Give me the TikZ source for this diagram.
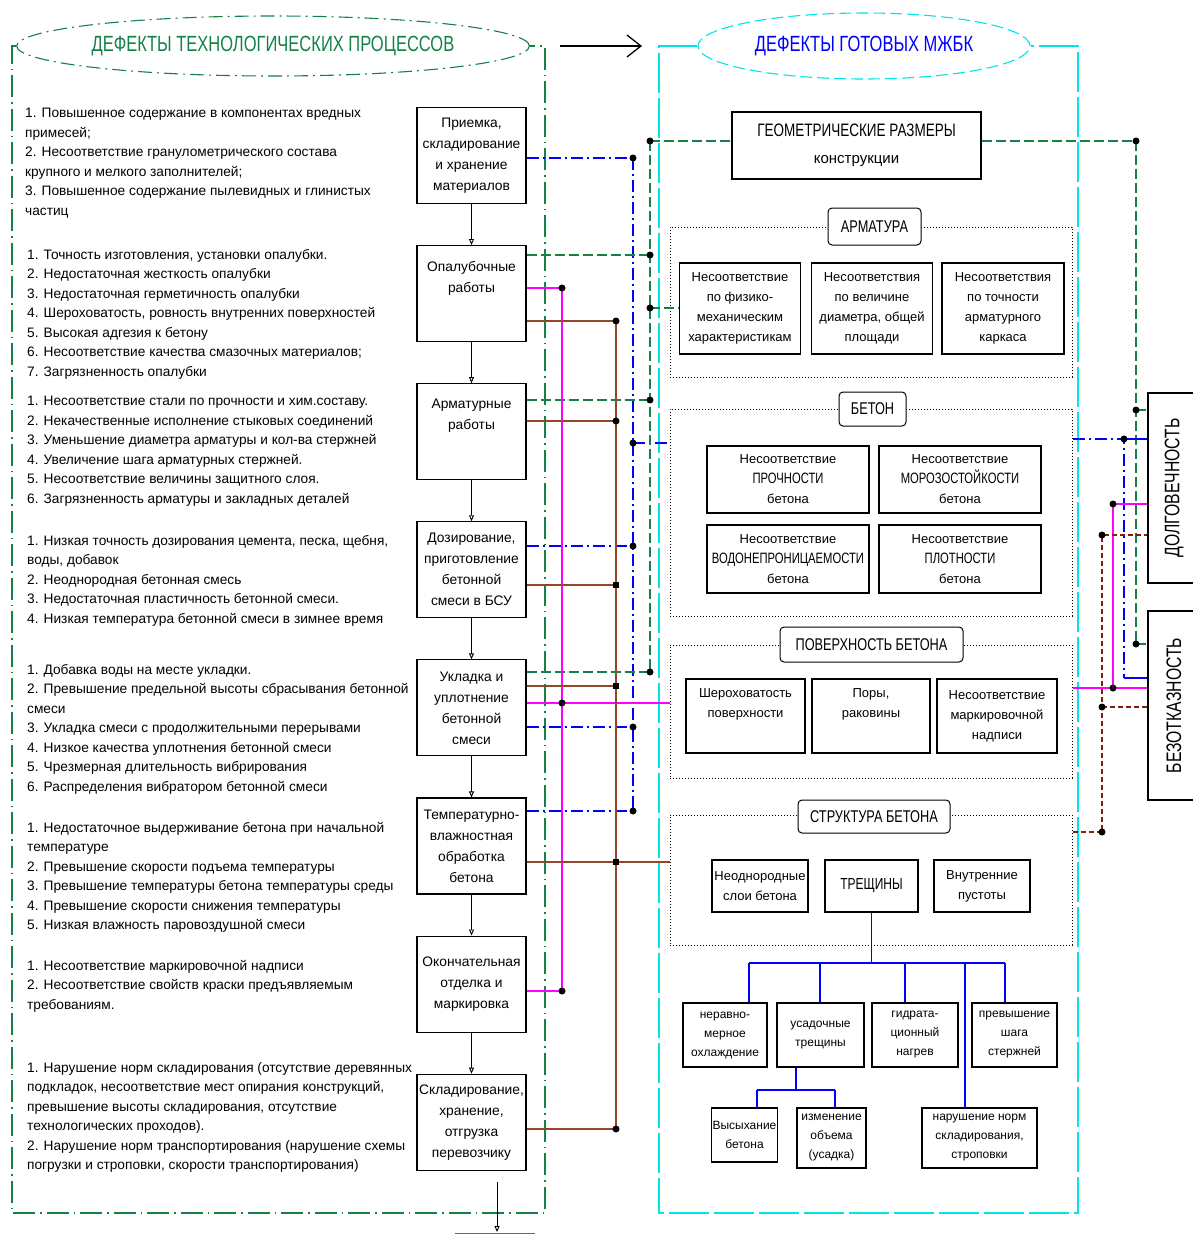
\documentclass[tikz,border=0pt]{standalone}
\usepackage{fontspec}
\setmainfont{Liberation Sans}
\newfontfamily\capsf{Liberation Sans}[FakeStretch=0.75]
\usetikzlibrary{arrows.meta, shapes.geometric, positioning}

\definecolor{cadgreen}{RGB}{20,130,70}
\definecolor{cadblue}{RGB}{0,0,255}
\definecolor{cadcyan}{RGB}{0,230,230}
\definecolor{cadpink}{RGB}{255,0,255}
\definecolor{cadbrown}{RGB}{150,70,40}
\definecolor{caddark}{RGB}{130,30,10}

\begin{document}
\begin{tikzpicture}[x=1pt, y=-1pt,
  stage/.style={draw, line width=1.1pt, minimum width=109pt, minimum height=96pt, inner sep=1pt, align=center, font=\fontsize{13.8}{21}\selectfont},
  stagetxt/.style={inner sep=0pt, align=center, font=\fontsize{13.8}{21}\selectfont},
  note/.style={anchor=north west, inner sep=0pt, align=left, font=\fontsize{13.7}{19.5}\selectfont},
  dbox/.style={draw, line width=1.1pt, inner sep=1pt, align=center, font=\fontsize{13}{20}\selectfont},
  grp/.style={draw, dotted, line width=1pt, inner sep=0pt, minimum width=402pt},
  grptag/.style={draw, fill=white, rounded corners=4pt, line width=1pt, inner sep=0pt, font=\capsf\fontsize{17}{17}\selectfont},
  outc/.style={draw, line width=1.1pt, minimum width=52pt, inner sep=0pt, font=\capsf\fontsize{21}{21}\selectfont},
  flow/.style={draw, line width=0.9pt, -{Triangle[open, length=6pt, width=5pt]}},
  lnG/.style={cadgreen, line width=1.6pt, dash pattern=on 10pt off 4pt},
  lnB/.style={cadblue, line width=1.6pt, dash pattern=on 12pt off 4pt on 2pt off 4pt},
  lnBs/.style={cadblue, line width=1.6pt},
  lnM/.style={cadpink, line width=1.6pt},
  lnR/.style={cadbrown, line width=1.7pt},
  lnRd/.style={caddark, line width=1.6pt, dash pattern=on 5pt off 3pt},
  tree/.style={cadblue, line width=1.3pt},
  jdot/.style={circle, fill, inner sep=0pt, minimum size=7pt},
  jsq/.style={rectangle, fill, inner sep=0pt, minimum size=6pt}
]
\useasboundingbox (0,0) rectangle (1192,1236);

% titles and frames
\node[ellipse, draw=cadgreen, line width=1.1pt, dash pattern=on 14pt off 5pt on 2pt off 5pt, minimum width=447pt, minimum height=60pt, inner sep=0pt, text=cadgreen, font=\capsf\fontsize{22}{22}\selectfont] (t1) at (273,46) {ДЕФЕКТЫ ТЕХНОЛОГИЧЕСКИХ ПРОЦЕССОВ};
\node[ellipse, draw=cadcyan, line width=1.1pt, dash pattern=on 12pt off 5pt, minimum width=332pt, minimum height=66pt, inner sep=0pt, text=cadblue, font=\capsf\fontsize{22}{22}\selectfont] (t2) at (864,46) {ДЕФЕКТЫ ГОТОВЫХ МЖБК};
\draw[cadgreen, line width=1.3pt, dash pattern=on 22pt off 5pt on 1.5pt off 5pt] (t1.west) -- (12,46) -- (12,1213) -- (545,1213) -- (545,46) -- (t1.east);
\draw[cadcyan, line width=1.3pt, dash pattern=on 40pt off 5pt] (t2.west) -- (659,46) -- (659,1213) -- (1078,1213) -- (1078,46) -- (t2.east);
\coordinate (arA) at (560,46);
\coordinate (arB) at (642,46);
\draw[line width=1.3pt, -{Straight Barb[length=14pt, width=22pt]}] (arA) -- (arB);

% process stages
\node[stage] (pr) at (471.5,155.5) {Приемка,\\складирование\\и хранение\\материалов};
\node[stage] (op) at (471.5,293.6) {};
\node[stagetxt, below=16pt of op.north] (opT) {Опалубочные\\работы};
\node[stage] (ar) at (471.5,431.7) {};
\node[stagetxt, below=16pt of ar.north] (arT) {Арматурные\\работы};
\node[stage] (dz) at (471.5,569.8) {Дозирование,\\приготовление\\бетонной\\смеси в БСУ};
\node[stage] (uk) at (471.5,707.9) {Укладка и\\уплотнение\\бетонной\\смеси};
\node[stage] (tv) at (471.5,846) {Температурно-\\влажностная\\обработка\\бетона};
\node[stage] (ok) at (471.5,984.1) {Окончательная\\отделка и\\маркировка};
\node[stage] (sk) at (471.5,1122.2) {Складирование,\\хранение,\\отгрузка\\перевозчику};
\draw[flow] (pr) -- (op);
\draw[flow] (op) -- (ar);
\draw[flow] (ar) -- (dz);
\draw[flow] (dz) -- (uk);
\draw[flow] (uk) -- (tv);
\draw[flow] (tv) -- (ok);
\draw[flow] (ok) -- (sk);
\coordinate (outA) at (497,1182);
\coordinate (outB) at (497,1232);
\draw[flow] (outA) -- (outB);
\draw[line width=0.9pt, black!60] (455,1233) -- (535,1233);

% defect notes
\node[note] at (25,108) (n1) {1. Повышенное содержание в компонентах вредных\\
примесей;\\
2. Несоответствие гранулометрического состава\\
крупного и мелкого заполнителей;\\
3. Повышенное содержание пылевидных и глинистых\\
частиц};
\node[note] at (27,249) (n2) {1. Точность изготовления, установки опалубки.\\
2. Недостаточная жесткость опалубки\\
3. Недостаточная герметичность опалубки\\
4. Шероховатость, ровность внутренних поверхностей\\
5. Высокая адгезия к бетону\\
6. Несоответствие качества смазочных материалов;\\
7. Загрязненность опалубки};
\node[note] at (27,396) (n3) {1. Несоответствие стали по прочности и хим.составу.\\
2. Некачественные исполнение стыковых соединений\\
3. Уменьшение диаметра арматуры и кол-ва стержней\\
4. Увеличение шага арматурных стержней.\\
5. Несоответствие величины защитного слоя.\\
6. Загрязненность арматуры и закладных деталей};
\node[note] at (27,535) (n4) {1. Низкая точность дозирования цемента, песка, щебня,\\
воды, добавок\\
2. Неоднородная бетонная смесь\\
3. Недостаточная пластичность бетонной смеси.\\
4. Низкая температура бетонной смеси в зимнее время};
\node[note] at (27,664) (n5) {1. Добавка воды на месте укладки.\\
2. Превышение предельной высоты сбрасывания бетонной\\
смеси\\
3. Укладка смеси с продолжительными перерывами\\
4. Низкое качества уплотнения бетонной смеси\\
5. Чрезмерная длительность вибрирования\\
6. Распределения вибратором бетонной смеси};
\node[note] at (27,822) (n6) {1. Недостаточное выдерживание бетона при начальной\\
температуре\\
2. Превышение скорости подъема температуры\\
3. Превышение температуры бетона температуры среды\\
4. Превышение скорости снижения температуры\\
5. Низкая влажность паровоздушной смеси};
\node[note] at (27,960) (n7) {1. Несоответствие маркировочной надписи\\
2. Несоответствие свойств краски предъявляемым\\
требованиям.};
\node[note] at (27,1062) (n8) {1. Нарушение норм складирования (отсутствие деревянных\\
подкладок, несоответствие мест опирания конструкций,\\
превышение высоты складирования, отсутствие\\
технологических проходов).\\
2. Нарушение норм транспортирования (нарушение схемы\\
погрузки и строповки, скорости транспортирования)};

% finished product defects
\node[dbox, minimum width=249pt, minimum height=67pt, font=\fontsize{15}{27}\selectfont] (geo) at (856.5,145.5) {{\capsf\fontsize{18}{18}\selectfont ГЕОМЕТРИЧЕСКИЕ РАЗМЕРЫ}\\конструкции};

\node[grp, minimum height=150pt] (armF) at (871,302) {};
\node[grptag, minimum width=93pt, minimum height=37pt] (armL) at (874.5,226.5) {АРМАТУРА};
\node[dbox, minimum width=121pt, minimum height=91pt] (a1) at (740,308.5) {Несоответствие\\по физико-\\механическим\\характеристикам};
\node[dbox, minimum width=121pt, minimum height=91pt] (a2) at (872,308.5) {Несоответствия\\по величине\\диаметра, общей\\площади};
\node[dbox, minimum width=122pt, minimum height=91pt] (a3) at (1003,308.5) {Несоответствия\\по точности\\арматурного\\каркаса};

\node[grp, minimum height=207pt] (betF) at (871,512.5) {};
\node[grptag, minimum width=67pt, minimum height=34pt] (betL) at (872.5,409) {БЕТОН};
\node[dbox, minimum width=162pt, minimum height=67pt] (b1) at (788,479.5) {Несоответствие\\{\capsf\fontsize{15}{15}\selectfont ПРОЧНОСТИ}\\бетона};
\node[dbox, minimum width=162pt, minimum height=67pt] (b2) at (960,479.5) {Несоответствие\\{\capsf\fontsize{15}{15}\selectfont МОРОЗОСТОЙКОСТИ}\\бетона};
\node[dbox, minimum width=162pt, minimum height=68pt] (b3) at (788,559) {Несоответствие\\{\capsf\fontsize{15}{15}\selectfont ВОДОНЕПРОНИЦАЕМОСТИ}\\бетона};
\node[dbox, minimum width=162pt, minimum height=68pt] (b4) at (960,559) {Несоответствие\\{\capsf\fontsize{15}{15}\selectfont ПЛОТНОСТИ}\\бетона};

\node[grp, minimum height=133pt] (surF) at (871,711.5) {};
\node[grptag, minimum width=183pt, minimum height=35pt] (surL) at (871.5,644.5) {ПОВЕРХНОСТЬ БЕТОНА};
\node[dbox, minimum width=119pt, minimum height=74pt] (s1) at (745.5,716) {Шероховатость\\поверхности\\[6pt]};
\node[dbox, minimum width=118pt, minimum height=74pt] (s2) at (871,716) {Поры,\\раковины\\[6pt]};
\node[dbox, minimum width=120pt, minimum height=74pt] (s3) at (997,716) {Несоответствие\\маркировочной\\надписи};

\node[grp, minimum height=130pt] (strF) at (871,880) {};
\node[grptag, minimum width=152pt, minimum height=33pt] (strL) at (874,816.5) {СТРУКТУРА БЕТОНА};
\node[dbox, minimum width=96pt, minimum height=52pt] (c1) at (760,886) {Неоднородные\\слои бетона};
\node[dbox, minimum width=93pt, minimum height=52pt, font=\capsf\fontsize{16}{16}\selectfont] (c2) at (871.5,886) {ТРЕЩИНЫ};
\node[dbox, minimum width=96pt, minimum height=52pt] (c3) at (982,886) {Внутренние\\пустоты};
\node[dbox, minimum width=84pt, minimum height=64pt, font=\fontsize{12}{19}\selectfont] (d1) at (725,1035) {неравно-\\мерное\\охлаждение};
\node[dbox, minimum width=87pt, minimum height=64pt, font=\fontsize{12}{19}\selectfont] (d2) at (820.5,1035) {усадочные\\трещины};
\node[dbox, minimum width=86pt, minimum height=64pt, font=\fontsize{12}{19}\selectfont] (d3) at (915,1035) {гидрата-\\ционный\\нагрев};
\node[dbox, minimum width=85pt, minimum height=64pt, font=\fontsize{12}{19}\selectfont] (d4) at (1014.5,1035) {превышение\\шага\\стержней};
\node[dbox, minimum width=65pt, minimum height=54pt, font=\fontsize{12}{19}\selectfont] (e1) at (744.5,1135) {Высыхание\\бетона};
\node[dbox, minimum width=69pt, minimum height=60pt, font=\fontsize{12}{19}\selectfont] (e2) at (831.5,1138) {изменение\\объема\\(усадка)};
\node[dbox, minimum width=115pt, minimum height=60pt, font=\fontsize{12}{19}\selectfont] (e3) at (979.5,1138) {нарушение норм\\складирования,\\строповки};

\node[outc, minimum height=190pt] (dol) at (1174,488) {\rotatebox{90}{ДОЛГОВЕЧНОСТЬ}};
\node[outc, minimum height=189pt] (bez) at (1174,705.5) {\rotatebox{90}{БЕЗОТКАЗНОСТЬ}};

% crack tree
\coordinate (k1) at (749,963);
\coordinate (k2) at (820,963);
\coordinate (k3) at (905,963);
\coordinate (k4) at (965,963);
\coordinate (k5) at (1005,963);
\draw[tree] (c2.south) -- (c2.south |- k1);
\draw[tree] (k1) -- (k5);
\draw[tree] (k1) -- (d1.north -| k1);
\draw[tree] (k2) -- (d2.north -| k2);
\draw[tree] (k3) -- (d3.north -| k3);
\draw[tree] (k4) -- (e3.north -| k4);
\draw[tree] (k5) -- (d4.north -| k5);
\coordinate (m0) at (796,1090);
\coordinate (m1) at (757,1090);
\coordinate (m2) at (835,1090);
\draw[tree] (d2.south -| m0) -- (m0);
\draw[tree] (m1) -- (m2);
\draw[tree] (m1) -- (e1.north -| m1);
\draw[tree] (m2) -- (e2.north -| m2);

% left buses
\coordinate (jB1) at (633,158);
\coordinate (jB2) at (633,443);
\coordinate (jB3) at (633,546);
\coordinate (jB4) at (633,727);
\coordinate (jB5) at (633,811);
\coordinate (jG1) at (650,141);
\coordinate (jG2) at (650,255);
\coordinate (jG3) at (650,308);
\coordinate (jG4) at (650,400);
\coordinate (jG5) at (650,672);
\coordinate (jM1) at (562,288);
\coordinate (jM2) at (562,703);
\coordinate (jM3) at (562,991);
\coordinate (jR1) at (616,321);
\coordinate (jR2) at (616,421);
\coordinate (jR3) at (616,585);
\coordinate (jR4) at (616,686);
\coordinate (jR5) at (616,862);
\coordinate (jR6) at (616,1129);

\draw[lnB] (jB1) -- (jB5);
\draw[lnB] (pr.east |- jB1) -- (jB1);
\draw[lnB] (jB2) -- (betF.west |- jB2);
\draw[lnB] (dz.east |- jB3) -- (jB3);
\draw[lnB] (uk.east |- jB4) -- (jB4);
\draw[lnB] (tv.east |- jB5) -- (jB5);

\draw[lnG] (jG1) -- (jG5);
\draw[lnG] (jG1) -- (geo.west |- jG1);
\draw[lnG] (op.east |- jG2) -- (jG2);
\draw[lnG] (jG3) -- (a1.west |- jG3);
\draw[lnG] (ar.east |- jG4) -- (jG4);
\draw[lnG] (uk.east |- jG5) -- (jG5);

\draw[lnM] (jM1) -- (jM3);
\draw[lnM] (op.east |- jM1) -- (jM1);
\draw[lnM] (uk.east |- jM2) -- (surF.west |- jM2);
\draw[lnM] (ok.east |- jM3) -- (jM3);

\draw[lnR] (jR1) -- (jR6);
\draw[lnR] (op.east |- jR1) -- (jR1);
\draw[lnR] (ar.east |- jR2) -- (jR2);
\draw[lnR] (dz.east |- jR3) -- (jR3);
\draw[lnR] (uk.east |- jR4) -- (jR4);
\draw[lnR] (tv.east |- jR5) -- (strF.west |- jR5);
\draw[lnR] (sk.east |- jR6) -- (jR6);

% right buses
\coordinate (jH1) at (1136,141);
\coordinate (jH2) at (1136,410);
\coordinate (jH3) at (1136,644);
\coordinate (jK1) at (1124,439);
\coordinate (jK2) at (1124,678);
\coordinate (jN1) at (1113,504);
\coordinate (jN2) at (1113,688);
\coordinate (jP1) at (1102,535);
\coordinate (jP2) at (1102,707);
\coordinate (jP3) at (1102,832);

\draw[lnG] (geo.east |- jH1) -- (jH1) -- (jH3);
\draw[lnG] (jH2) -- (dol.west |- jH2);
\draw[lnG] (jH3) -- (bez.west |- jH3);
\draw[lnB] (betF.east |- jK1) -- (jK1) -- (jK2);
\draw[lnBs] (jK1) -- (dol.west |- jK1);
\draw[lnBs] (jK2) -- (bez.west |- jK2);
\draw[lnM] (surF.east |- jN2) -- (bez.west |- jN2);
\draw[lnM] (jN2) -- (jN1) -- (dol.west |- jN1);
\draw[lnRd] (strF.east |- jP3) -- (jP3) -- (jP1) -- (dol.west |- jP1);
\draw[lnRd] (jP2) -- (bez.west |- jP2);

% junction dots
\foreach \j in {jB1,jB2,jB3,jB4,jB5,jG1,jG2,jG3,jG4,jG5,jM1,jM2,jM3,jR1,jR2,jR6,jH1,jH2,jH3,jK1,jN1,jN2,jP1,jP2,jP3}
  \node[jdot] (d\j) at (\j) {};
\foreach \j in {jR3,jR4,jR5}
  \node[jsq] (d\j) at (\j) {};
\end{tikzpicture}
\end{document}
